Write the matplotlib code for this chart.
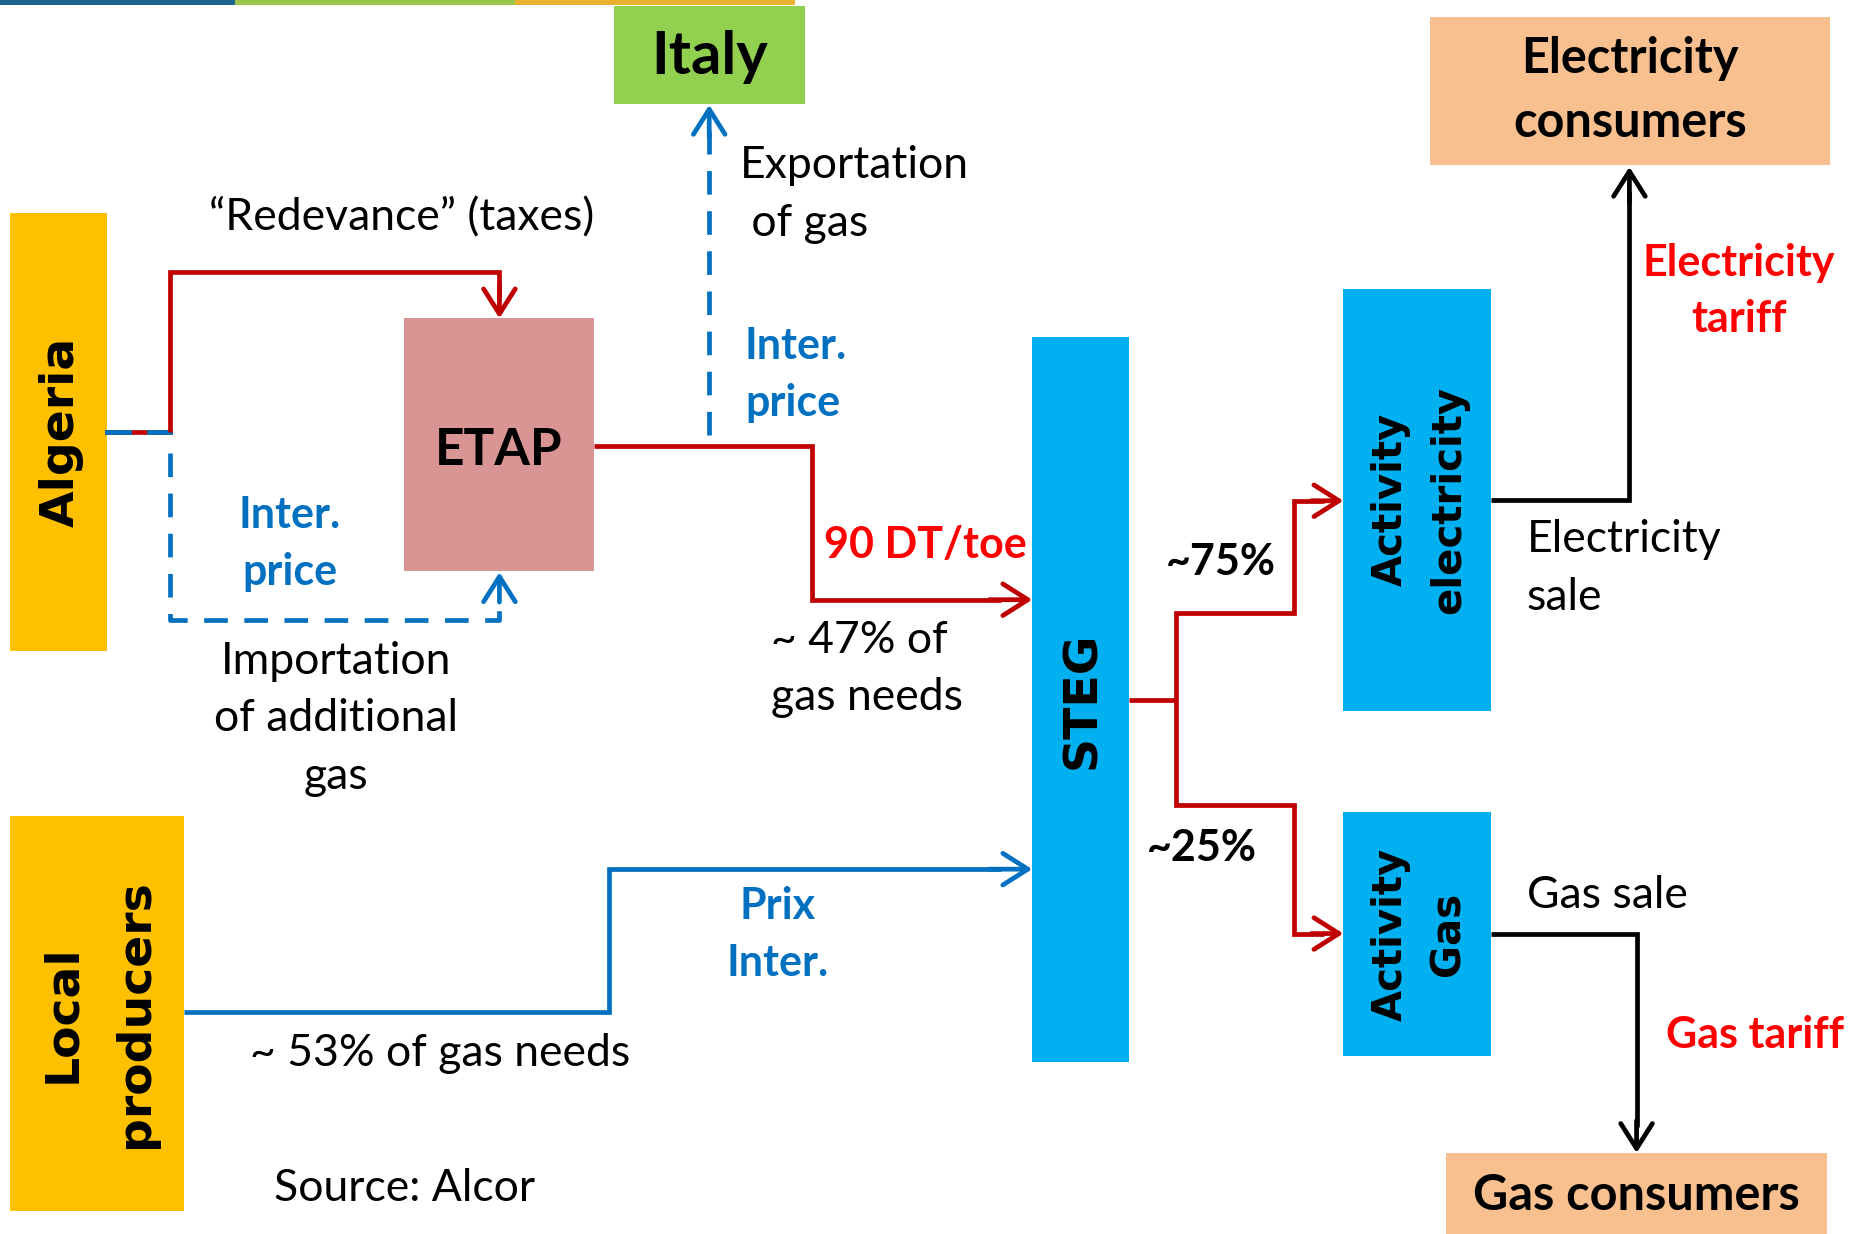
import matplotlib.pyplot as plt
from matplotlib.patches import Rectangle

plt.rcParams["font.family"] = ["Lato", "DejaVu Sans"]

# colours
YELLOW = "#FFC000"
GREEN = "#92D050"
PEACH = "#F9C08F"
PINK = "#D99594"
CYAN = "#00B0F0"
RED_LINE = "#C00000"
BLUE_LINE = "#0070C0"
RED_TXT = "#FF0000"
BLUE_TXT = "#0070C0"

# nodes: label, (x0, y0, x1, y1) in a 1568 x 1035 frame (y down), colour, rotation
node_labels = ["Italy", "Electricity\nconsumers", "Algeria", "ETAP", "STEG",
               "Activity\nelectricity", "Activity\nGas", "Local\nproducers", "Gas consumers"]
node_boxes = [(515, 5, 675, 87), (1200, 14, 1535, 138), (8, 179, 90, 546),
              (339, 267, 498, 479), (866, 283, 947, 891), (1127, 242, 1251, 596),
              (1127, 681, 1251, 886), (8, 684, 154, 1016), (1213, 967, 1533, 1040)]
node_colors = [GREEN, PEACH, YELLOW, PINK, CYAN, CYAN, CYAN, YELLOW, PEACH]
node_rot = [0, 0, 90, 0, 90, 90, 90, 90, 0]
node_fs = [43, 35, 34, 37, 34, 29, 29, 34, 35]
node_ls = [1.0, 1.5, 1.0, 1.0, 1.0, 1.6, 1.6, 1.8, 1.0]
node_dy = [2, 0, 0, 5, 0, 0, 0, 0, 0]

# top decoration strip
strip_edges = [0, 197, 432, 667]
strip_colors = ["#1F6391", "#9BC54D", "#EAB030"]

W, H = 1568, 1035
fig = plt.figure(figsize=(18.69, 12.34), dpi=100)
ax = fig.add_axes([0, 0, 1, 1])
ax.set_xlim(0, W)
ax.set_ylim(H, 0)
ax.axis("off")

for i, c in enumerate(strip_colors):
    ax.add_patch(Rectangle((strip_edges[i], 0), strip_edges[i + 1] - strip_edges[i], 4,
                           color=c, lw=0))

for lab, (x0, y0, x1, y1), c, rot, fs, ls, dy in zip(node_labels, node_boxes, node_colors,
                                                      node_rot, node_fs, node_ls, node_dy):
    ax.add_patch(Rectangle((x0, y0), x1 - x0, y1 - y0, color=c, lw=0, zorder=1))
    cx, cy = (x0 + x1) / 2, (y0 + y1) / 2 + dy
    if lab == "Gas consumers":
        cy = 1003
    if rot:
        ax.text(cx + 2, cy, lab, rotation=90, ha="center", va="center", multialignment="center",
                family="DejaVu Sans", weight="bold", fontsize=fs, linespacing=ls, zorder=3)
    else:
        ax.text(cx, cy, lab, ha="center", va="center", multialignment="center",
                weight="bold", fontsize=fs, linespacing=ls, zorder=3)

LW = 3.4


def path(pts, color, ls="-"):
    xs, ys = zip(*pts)
    ax.plot(xs, ys, color=color, lw=LW, ls=ls, solid_joinstyle="miter",
            solid_capstyle="butt", dashes=(5, 3.5) if ls == "--" else (None, None), zorder=2)


def arrow(p0, p1, color):
    ax.annotate("", xy=p1, xytext=p0,
                arrowprops=dict(arrowstyle="->,head_length=0.6,head_width=0.38", lw=LW,
                                color=color, shrinkA=0, shrinkB=0, mutation_scale=30),
                zorder=2)


# Algeria -> ETAP (taxes) and import
ax.plot([90, 143], [362, 362], color=RED_LINE, lw=LW, zorder=2)
ax.plot([90, 108], [362, 362], color=BLUE_LINE, lw=LW, zorder=2)
ax.plot([125, 143], [362, 362], color=BLUE_LINE, lw=LW, zorder=2)
path([(143, 362), (143, 228), (419, 228), (419, 250)], RED_LINE)
arrow((419, 240), (419, 267), RED_LINE)
path([(143, 380), (143, 520), (419, 520), (419, 500)], BLUE_LINE, ls="--")
arrow((419, 505), (419, 480), BLUE_LINE)

# ETAP -> STEG
path([(498, 374), (681, 374), (681, 503), (840, 503)], RED_LINE)
arrow((830, 503), (866, 503), RED_LINE)

# export to Italy
path([(595, 365), (595, 110)], BLUE_LINE, ls="--")
arrow((595, 115), (595, 88), BLUE_LINE)

# Local producers -> STEG
path([(154, 849), (511, 849), (511, 729), (840, 729)], BLUE_LINE)
arrow((830, 729), (866, 729), BLUE_LINE)

# STEG -> activities
path([(947, 587), (987, 587)], RED_LINE)
path([(1111, 420), (1086, 420), (1086, 514), (987, 514), (987, 675), (1086, 675),
      (1086, 783), (1111, 783)], RED_LINE)
arrow((1100, 420), (1127, 420), RED_LINE)
arrow((1100, 783), (1127, 783), RED_LINE)

# activities -> consumers
path([(1251, 419), (1367, 419), (1367, 160)], "black")
arrow((1367, 170), (1367, 140), "black")
path([(1251, 783), (1373, 783), (1373, 945)], "black")
arrow((1373, 940), (1373, 967), "black")

FS = 32
FSB = 31
LS = 1.5
# plain labels
ax.text(337, 183, "\u201cRedevance\u201d (taxes)", ha="center", va="center", fontsize=FS)
ax.text(621, 163, "Exportation\n of gas", ha="left", va="center", fontsize=FS, linespacing=LS)
ax.text(282, 603, "Importation\nof additional\ngas", ha="center", va="center", fontsize=FS,
        linespacing=LS)
ax.text(647, 561, "~ 47% of\ngas needs", ha="left", va="center", fontsize=FS, linespacing=LS)
ax.text(1281, 477, "Electricity\nsale", ha="left", va="center", fontsize=FS, linespacing=LS)
ax.text(1281, 751, "Gas sale", ha="left", va="center", fontsize=FS)
ax.text(210, 884, "~ 53% of gas needs", ha="left", va="center", fontsize=FS)
ax.text(230, 997, "Source: Alcor", ha="left", va="center", fontsize=FS)

# bold labels
ax.text(625, 314, "Inter.\nprice", ha="left", va="center", fontsize=FSB, weight="bold",
        color=BLUE_TXT, linespacing=LS)
ax.text(243, 456, "Inter.\nprice", ha="center", va="center", fontsize=FSB, weight="bold",
        color=BLUE_TXT, linespacing=LS)
ax.text(652, 784, "Prix\nInter.", ha="center", va="center", fontsize=FSB, weight="bold",
        color=BLUE_TXT, linespacing=LS)
ax.text(691, 457, "90 DT/toe", ha="left", va="center", fontsize=FSB, weight="bold",
        color=RED_TXT)
ax.text(1459, 244, "Electricity\ntariff", ha="center", va="center", fontsize=FSB,
        weight="bold", color=RED_TXT, linespacing=LS)
ax.text(1398, 868, "Gas tariff", ha="left", va="center", fontsize=FSB, weight="bold",
        color=RED_TXT)
ax.text(978, 471, "~75%", ha="left", va="center", fontsize=FSB, weight="bold")
ax.text(962, 711, "~25%", ha="left", va="center", fontsize=FSB, weight="bold")

fig.savefig("out.png", dpi=100)
